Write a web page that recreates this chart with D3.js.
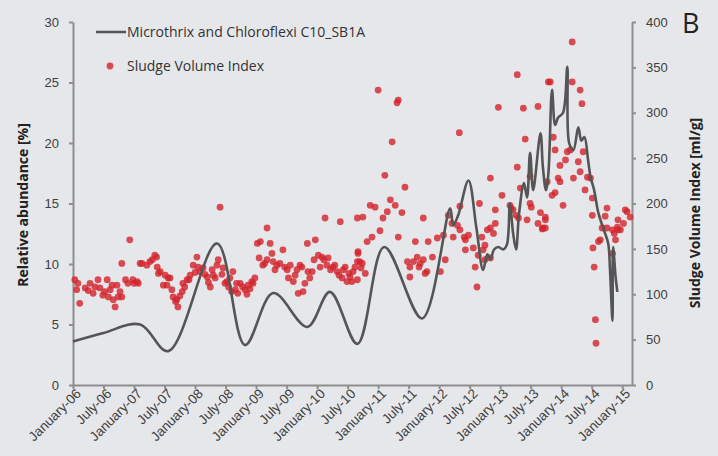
<!DOCTYPE html>
<html>
<head>
<meta charset="utf-8">
<script src="https://cdn.jsdelivr.net/npm/d3@7"></script>
<style>
  body { margin: 0; background: #e6e7ea; }
  svg { display: block; font-family: 'Open Sans', sans-serif; }
  .axis path, .axis line { stroke: #8e8e8e; stroke-width: 2; }
  .axis text { fill: #404040; font-size: 13px; }
  .xaxis text { font-size: 13.5px; }
  .title { font-weight: bold; font-size: 14px; fill: #222; }
  .legend text { font-size: 14px; fill: #333; }
</style>
</head>
<body>
<svg width="718" height="456"></svg>
<script>
// relative abundance of Microthrix + Chloroflexi, [decimal year, %]
const abundance = [
  [2006.00, 3.6], [2006.50, 4.3], [2007.10, 5.0], [2007.56, 2.8], [2008.36, 11.7],
  [2008.82, 3.3], [2009.28, 7.6], [2009.84, 4.8], [2010.21, 7.7], [2010.66, 3.4],
  [2011.10, 11.4], [2011.72, 5.5], [2012.18, 14.6], [2012.23, 13.2], [2012.31, 14.0],
  [2012.48, 16.9], [2012.61, 13.0], [2012.72, 9.5], [2012.79, 10.8], [2012.84, 10.4],
  [2012.90, 11.2], [2012.97, 11.4], [2013.05, 11.2], [2013.11, 11.6], [2013.16, 15.0],
  [2013.21, 12.6], [2013.26, 11.2], [2013.31, 14.2], [2013.39, 16.7], [2013.44, 15.5],
  [2013.49, 19.2], [2013.54, 16.1], [2013.66, 20.8], [2013.70, 18.0], [2013.75, 16.1],
  [2013.79, 17.5], [2013.85, 24.4], [2013.90, 21.5], [2013.95, 22.1], [2014.03, 22.5],
  [2014.10, 26.3], [2014.13, 20.0], [2014.20, 19.4], [2014.28, 21.3], [2014.33, 20.2],
  [2014.38, 20.5], [2014.44, 18.6], [2014.48, 17.2], [2014.54, 16.1], [2014.61, 14.2],
  [2014.70, 12.8], [2014.77, 11.7], [2014.80, 9.5], [2014.84, 5.3], [2014.85, 11.4],
  [2014.89, 9.0], [2014.92, 7.7]
];

// sludge volume index samples, [decimal year, ml/g]
const svi = [
  [2006.03,116],[2006.06,105],[2006.11,90],[2006.20,107],[2006.28,112],[2006.33,101],[2006.41,116],
  [2006.44,107],[2006.49,99],[2006.56,116],[2006.61,105],[2006.66,94],[2006.69,86],[2006.74,97],
  [2006.80,97],[2006.72,110],[2006.93,160],[2006.80,134],[2006.90,112],[2007.05,114],[2007.13,134],
  [2007.21,132],[2007.30,138],[2007.34,143],[2007.38,130],[2007.43,125],[2007.48,110],[2007.51,121],
  [2007.59,118],[2007.62,105],[2007.64,97],[2007.70,94],[2007.72,86],[2007.79,103],[2007.80,112],
  [2007.87,116],[2007.92,121],[2007.97,132],[2008.03,141],[2008.08,125],[2008.13,129],[2008.20,119],
  [2008.25,108],[2008.30,121],[2008.36,132],[2008.38,138],[2008.41,196],[2008.46,129],[2008.52,114],
  [2008.57,118],[2008.62,125],[2008.66,105],[2008.70,101],[2008.74,112],[2008.82,105],[2008.87,110],
  [2008.93,114],[2008.98,118],[2009.02,156],[2009.07,158],[2009.11,132],[2009.18,138],[2009.18,173],
  [2009.23,156],[2009.28,136],[2009.34,132],[2009.44,149],[2009.51,127],[2009.56,132],[2009.61,114],
  [2009.67,127],[2009.72,132],[2009.77,103],[2009.80,112],[2009.85,125],[2009.92,125],[2009.84,156],
  [2009.97,160],[2010.02,143],[2010.08,141],[2010.13,184],[2010.18,140],[2010.26,130],[2010.33,125],
  [2010.38,180],[2010.43,127],[2010.49,114],[2010.54,119],[2010.59,125],[2010.67,145],[2010.66,184],
  [2006.08,112],[2006.25,104],[2006.36,108],[2006.52,103],[2006.58,97],[2006.64,110],[2006.77,103],
  [2006.86,116],[2006.98,116],[2007.00,112],[2007.07,112],[2007.10,134],[2007.26,136],[2007.37,141],
  [2007.40,123],[2007.56,118],[2007.54,110],[2007.68,92],[2007.75,98],[2007.83,108],[2007.90,116],
  [2008.00,124],[2008.05,130],[2008.16,122],[2008.22,113],[2008.28,127],[2008.33,118],[2008.44,122],
  [2008.49,112],[2008.55,108],[2008.60,103],[2008.68,112],[2008.78,108],[2008.85,100],[2008.90,106],
  [2008.95,112],[2009.05,140],[2009.14,134],[2009.26,145],[2009.31,127],[2009.39,134],[2009.47,130],
  [2009.53,118],[2009.64,121],[2009.69,101],[2009.75,130],[2009.88,118],[2009.95,138],[2010.05,130],
  [2010.11,138],[2010.16,132],[2010.22,127],[2010.29,132],[2010.36,121],[2010.41,118],[2010.46,130],
  [2010.52,123],[2010.57,114],[2010.62,130],[2010.70,136],
  [2011.00,325],[2011.33,314],[2011.31,311],[2011.23,268],[2011.11,231],[2011.44,218],[2010.87,198],
  [2010.95,196],[2011.20,204],[2011.28,198],[2011.15,191],[2011.39,190],[2010.75,185],[2011.08,184],
  [2011.74,184],[2011.03,170],[2010.90,163],[2011.33,163],[2010.82,158],[2011.61,158],[2011.82,158],
  [2011.97,162],[2012.07,165],[2012.15,187],[2010.67,147],[2010.66,136],[2010.74,134],[2010.79,123],
  [2011.48,136],[2011.52,130],[2011.64,141],[2011.69,134],[2011.74,138],[2011.89,141],[2011.77,123],
  [2011.52,119],[2012.02,125],[2010.66,116],[2010.72,129],[2011.58,136],[2011.67,130],[2011.80,125],
  [2012.10,138],
  [2013.28,342],[2012.97,306],[2013.38,305],[2013.62,307],[2013.79,334],[2012.33,278],[2013.41,271],
  [2013.28,240],[2012.84,228],[2013.49,230],[2013.03,209],[2013.33,217],[2013.16,198],[2013.21,193],
  [2012.92,193],[2012.66,200],[2012.34,197],[2013.49,200],[2013.66,190],[2013.74,185],[2013.62,178],
  [2013.44,182],[2013.30,184],[2012.92,178],[2012.79,171],[2012.89,167],[2012.70,163],[2012.48,165],
  [2012.43,160],[2012.21,178],[2012.23,163],[2012.34,171],[2012.43,149],[2012.56,151],[2012.72,149],
  [2012.64,143],[2012.75,138],[2013.69,172],[2012.59,130],[2012.62,108],[2012.30,176],[2012.41,163],
  [2012.84,173],[2012.75,154],[2012.84,140],[2013.18,195],[2013.26,187],[2013.51,196],[2013.70,173],
  [2014.03,198],
  [2014.18,378],[2013.82,334],[2014.18,334],[2014.31,325],[2014.34,310],[2013.87,273],[2014.36,257],
  [2014.10,257],[2014.15,259],[2013.90,259],[2013.98,242],[2014.07,248],[2014.28,246],[2014.31,235],
  [2014.20,228],[2014.43,229],[2014.48,228],[2013.95,228],[2013.98,224],[2013.77,224],[2014.39,215],
  [2013.90,212],[2013.85,209],[2014.51,206],[2014.51,187],[2014.75,195],[2014.72,186],[2015.08,191],
  [2015.13,185],[2014.93,182],[2015.02,178],[2014.67,173],[2014.75,173],[2014.84,171],[2014.92,174],
  [2014.97,171],[2014.64,160],[2014.89,160],[2014.84,145],[2014.52,151],[2014.54,130],[2014.56,72],
  [2014.57,46],[2013.74,182],[2013.74,173],[2014.61,158],[2014.87,167],[2014.93,171],[2015.05,193]
];

const tickLabels = [
  'January-06', 'July-06', 'January-07', 'July-07', 'January-08', 'July-08',
  'January-09', 'July-09', 'January-10', 'July-10', 'January-11', 'July-11',
  'January-12', 'July-12', 'January-13', 'July-13', 'January-14', 'July-14', 'January-15'
];
const leftTicks = [0, 5, 10, 15, 20, 25, 30];
const rightTicks = [0, 50, 100, 150, 200, 250, 300, 350, 400];

const svg = d3.select('svg');
const plot = { left: 73, right: 632, top: 22, bottom: 385 };

const x = d3.scaleLinear().domain([2006, 2015.16]).range([plot.left, plot.right]);
const y = d3.scaleLinear().domain([0, 30]).range([plot.bottom, plot.top]);
const y2 = d3.scaleLinear().domain([0, 400]).range([plot.bottom, plot.top]);

// axes
svg.append('g')
  .attr('class', 'axis')
  .attr('transform', `translate(${plot.left},0)`)
  .call(d3.axisLeft(y).tickValues(leftTicks).tickSize(4).tickSizeOuter(0).tickPadding(10));

svg.append('g')
  .attr('class', 'axis')
  .attr('transform', `translate(${plot.right},0)`)
  .call(d3.axisRight(y2).tickValues(rightTicks).tickSize(4).tickSizeOuter(0).tickPadding(10));

const xAxis = svg.append('g')
  .attr('class', 'axis xaxis')
  .attr('transform', `translate(0,${plot.bottom})`)
  .call(d3.axisBottom(x)
    .tickValues(tickLabels.map((d, i) => 2006 + i / 2))
    .tickFormat((d, i) => tickLabels[i])
    .tickSize(4).tickSizeOuter(0));

xAxis.selectAll('text')
  .attr('text-anchor', 'end')
  .attr('transform', 'translate(5,6) rotate(-45)')
  .attr('dy', '0.35em')
  .attr('y', 0)
  .attr('x', 0);

// titles
svg.append('text')
  .attr('class', 'title')
  .attr('transform', 'translate(28,205) rotate(-90)')
  .attr('text-anchor', 'middle')
  .text('Relative abundance [%]');

svg.append('text')
  .attr('class', 'title')
  .attr('transform', 'translate(700,213) rotate(-90)')
  .attr('text-anchor', 'middle')
  .text('Sludge Volume Index [ml/g]');

svg.append('text')
  .attr('x', 682)
  .attr('y', 33)
  .attr('font-size', 27)
  .attr('fill', '#222')
  .text('B');

// svi dots
svg.append('g')
  .selectAll('circle')
  .data(svi)
  .enter()
  .append('circle')
  .attr('cx', d => x(d[0]))
  .attr('cy', d => y2(d[1]))
  .attr('r', 3.4)
  .attr('fill', '#d3232c')
  .attr('fill-opacity', 0.8);

// abundance line
const line = d3.line()
  .x(d => x(d[0]))
  .y(d => y(d[1]))
  .curve(d3.curveCatmullRom.alpha(0.5));

svg.append('path')
  .datum(abundance)
  .attr('d', line)
  .attr('fill', 'none')
  .attr('stroke', '#555')
  .attr('stroke-width', 2.6);

// legend
const legend = svg.append('g').attr('class', 'legend');
legend.append('line')
  .attr('x1', 96).attr('x2', 126).attr('y1', 32).attr('y2', 32)
  .attr('stroke', '#555').attr('stroke-width', 2.5);
legend.append('text')
  .attr('x', 127).attr('y', 32).attr('dy', '0.35em')
  .text('Microthrix and Chloroflexi C10_SB1A');
legend.append('circle')
  .attr('cx', 110).attr('cy', 66).attr('r', 3.4)
  .attr('fill', '#d3232c').attr('fill-opacity', 0.8);
legend.append('text')
  .attr('x', 127).attr('y', 66).attr('dy', '0.35em')
  .text('Sludge Volume Index');
</script>
</body>
</html>
